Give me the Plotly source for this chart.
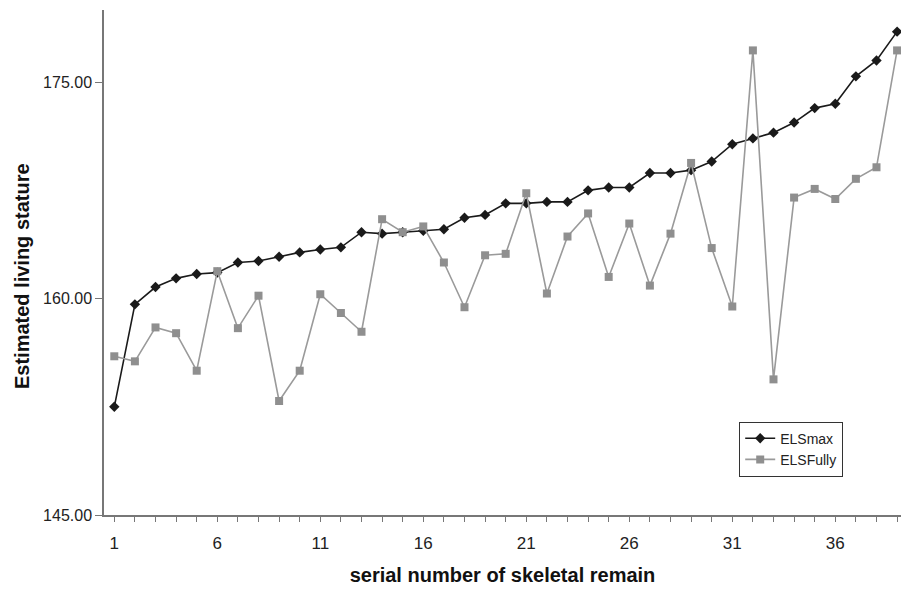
import plotly.graph_objects as go

serial = list(range(1, 40))
els_max = [152.5, 159.6, 160.8, 161.4, 161.7, 161.8, 162.5, 162.6, 162.9, 163.2,
           163.4, 163.55, 164.6, 164.5, 164.6, 164.7, 164.8, 165.6, 165.8, 166.6,
           166.6, 166.7, 166.7, 167.5, 167.7, 167.7, 168.7, 168.7, 168.9, 169.5,
           170.7, 171.1, 171.5, 172.2, 173.2, 173.5, 175.4, 176.5, 178.5]
els_fully = [156.0, 155.65, 158.0, 157.6, 155.0, 161.9, 157.95, 160.2, 152.9, 155.0,
             160.3, 159.0, 157.7, 165.5, 164.6, 165.0, 162.5, 159.4, 163.0, 163.1,
             167.3, 160.35, 164.3, 165.9, 161.5, 165.2, 160.9, 164.5, 169.4, 163.5,
             159.45, 177.2, 154.4, 167.0, 167.6, 166.9, 168.3, 169.1, 177.2]
y_ticks = [145, 160, 175]
x_label_every = 5

FONT = "Liberation Sans, Arial, sans-serif"

fig = go.Figure()
fig.add_trace(go.Scatter(
    x=serial, y=els_max, name="ELSmax", mode="lines+markers",
    line=dict(color="#1a1a1a", width=1.6),
    marker=dict(symbol="diamond", size=8, color="#1a1a1a"),
    cliponaxis=False,
))
fig.add_trace(go.Scatter(
    x=serial, y=els_fully, name="ELSFully", mode="lines+markers",
    line=dict(color="#9a9a9a", width=1.6),
    marker=dict(symbol="square", size=8, color="#8f8f8f"),
    cliponaxis=False,
))

tickvals = serial
ticktext = [str(v) if (v - 1) % x_label_every == 0 else "" for v in serial]

fig.update_layout(
    width=901, height=590,
    margin=dict(l=104, r=0, t=10, b=75),
    paper_bgcolor="white", plot_bgcolor="white",
    font=dict(family=FONT, color="#222"),
    showlegend=True,
    legend=dict(
        x=0.797, y=0.185, xanchor="left", yanchor="top",
        bordercolor="#333", borderwidth=1, bgcolor="white",
        font=dict(size=14, family=FONT, color="#222"),
        tracegroupgap=0, itemwidth=30,
    ),
    xaxis=dict(
        range=[0.5, 39.19], tickmode="array", tickvals=tickvals, ticktext=ticktext,
        ticks="outside", ticklen=5, tickcolor="#777", showline=True,
        linecolor="#777", linewidth=1.5, showgrid=False, zeroline=False,
        tickfont=dict(size=17, family=FONT, color="#222"), ticklabelstandoff=7,
        title=dict(text="<b>serial number of skeletal remain</b>",
                   font=dict(size=20, family=FONT, color="#111"), standoff=16),
    ),
    yaxis=dict(
        range=[145, 180], tickmode="array", tickvals=y_ticks,
        ticktext=[f"{v:.2f}" for v in y_ticks],
        ticks="outside", ticklen=7, tickcolor="#777", showline=True,
        linecolor="#777", linewidth=1.5, showgrid=False, zeroline=False,
        tickfont=dict(size=16, family=FONT, color="#222"),
    ),
    annotations=[dict(
        text="<b>Estimated living stature</b>", textangle=-90,
        xref="paper", yref="paper", x=-0.103, y=0.473,
        xanchor="center", yanchor="middle", showarrow=False,
        font=dict(size=20, family=FONT, color="#111"),
    )],
)

fig.write_html(
    "out.html",
    config={"displayModeBar": False},
    post_script="document.body.style.margin='0';document.body.style.overflow='hidden';",
)
